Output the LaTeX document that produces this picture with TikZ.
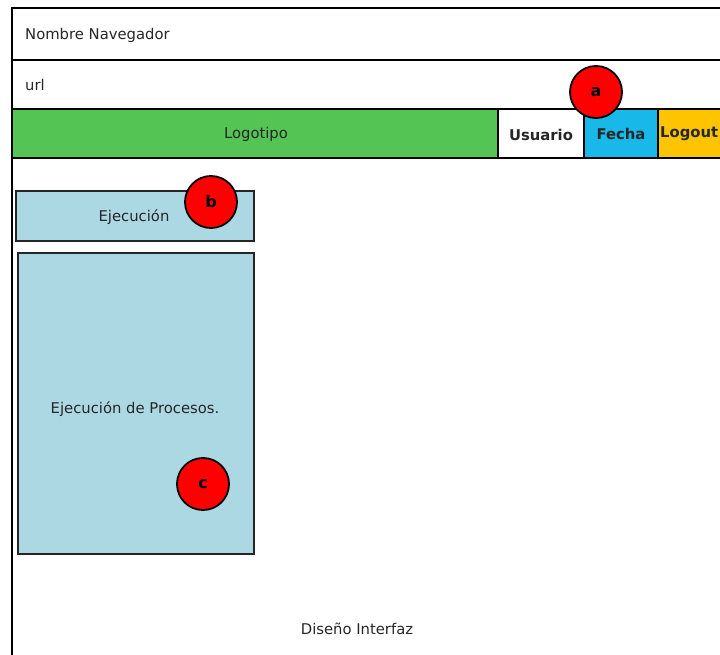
\documentclass[tikz,border=0pt]{standalone}
\usepackage{fontspec}
\setmainfont{DejaVu Sans}
\definecolor{logogreen}{RGB}{84,196,84}
\definecolor{fechablue}{RGB}{24,184,232}
\definecolor{logoutyellow}{RGB}{255,196,0}
\definecolor{panelblue}{RGB}{172,216,228}
\definecolor{markred}{RGB}{255,0,0}
\tikzset{
  frame/.style={line width=2.8pt, draw=black},
  bar/.style={draw=black, line width=2.4pt},
  panel/.style={draw=black!85, line width=2.2pt, fill=panelblue},
  marker/.style={circle, draw=black, line width=1.8pt, fill=markred, minimum width=52pt, inner sep=0pt, font=\fontsize{16}{18}\selectfont\bfseries},
  label/.style={font=\fontsize{14.8}{17}\selectfont, text=black!85, inner sep=0pt},
  blabel/.style={font=\fontsize{14.8}{17}\selectfont\bfseries, text=black!85, inner sep=0pt}
}
\begin{document}
\begin{tikzpicture}[x=1pt,y=-1pt]
\useasboundingbox (0,0) rectangle (720,655);
\clip (0,0) rectangle (720,655);
% toolbar boxes
\path[fill=logogreen] (12,109) rectangle (498,158);
\path[fill=white] (498,109) rectangle (584,158);
\path[fill=fechablue] (584,109) rectangle (658,158);
\path[fill=logoutyellow] (658,109) rectangle (740,158);
\draw[bar] (498,109) -- (498,158);
\draw[bar] (584,109) -- (584,158);
\draw[bar] (658,109) -- (658,158);
% frame lines
\draw[frame] (12,8) -- (740,8);
\draw[frame] (12,60) -- (740,60);
\draw[frame] (12,109) -- (740,109);
\draw[frame] (12,158) -- (740,158);
\draw[frame] (12,6.6) -- (12,660);
% texts in header
\node[label, anchor=west] (nav) at (25,35) {Nombre Navegador};
\node[label, anchor=west] (url) at (25,85) {url};
\node[label] (logo) at (256,134) {Logotipo};
\node[blabel] (usu) at (541,135) {Usuario};
\node[blabel] (fecha) at (621,134) {Fecha};
\node[blabel, anchor=west] (logout) at (660,134) {Logout};
% panels
\draw[panel] (16,191) rectangle (254,241);
\node[label] (ejec) at (134,217) {Ejecución};
\draw[panel] (18,253) rectangle (254,554);
\node[label] (proc) at (135,409) {Ejecución de Procesos.};
% markers
\node[marker, minimum height=49pt] (ma) at (596,92) {a};
\node[marker, minimum height=49pt] (mb) at (211,202) {b};
\node[marker, minimum height=49pt] (mc) at (203,484) {c};
% footer
\node[label] (dis) at (357,629) {Diseño Interfaz};
\end{tikzpicture}
\end{document}
